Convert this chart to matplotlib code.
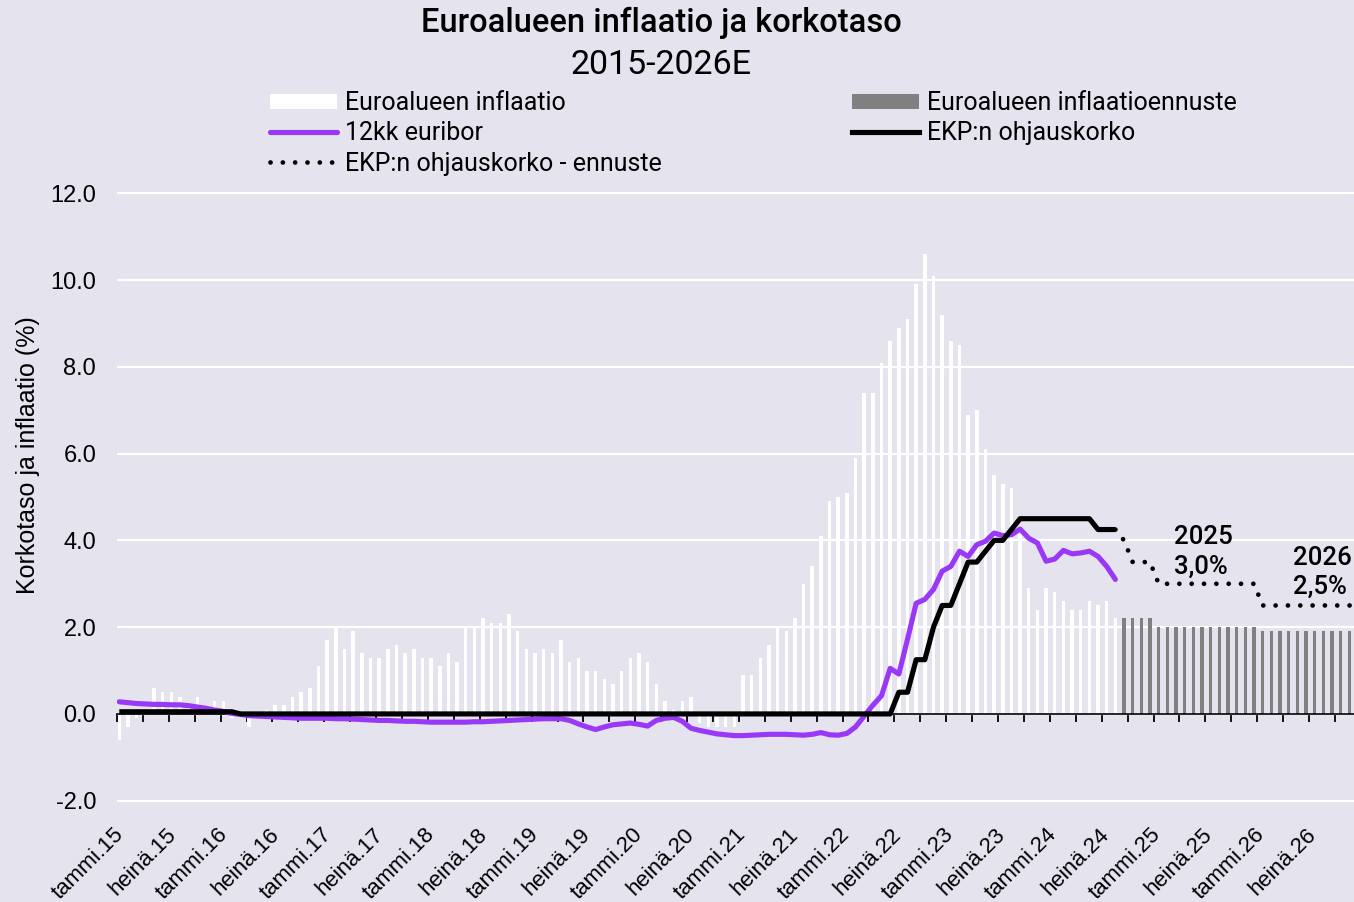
import numpy as np
import matplotlib.pyplot as plt
from matplotlib.patches import Patch
from matplotlib.lines import Line2D

bg = '#E4E3EE'
purple = '#9A38F8'
grey = '#808080'

# kuukaudet tammi.15 ... joulu.26 (144 kk), indeksi 0 = tammi.15
months = np.arange(144)

# euroalueen inflaatio (%), tammi.15 - elo.24
inflation = [
    -0.6, -0.3, -0.1, 0.0, 0.6, 0.5, 0.5, 0.4, 0.2, 0.4, 0.1, 0.3,
    0.3, -0.1, 0.0, -0.3, 0.0, 0.1, 0.2, 0.2, 0.4, 0.5, 0.6, 1.1,
    1.7, 2.0, 1.5, 1.9, 1.4, 1.3, 1.3, 1.5, 1.6, 1.4, 1.5, 1.3,
    1.3, 1.1, 1.4, 1.2, 2.0, 2.0, 2.2, 2.1, 2.1, 2.3, 1.9, 1.5,
    1.4, 1.5, 1.4, 1.7, 1.2, 1.3, 1.0, 1.0, 0.8, 0.7, 1.0, 1.3,
    1.4, 1.2, 0.7, 0.3, 0.1, 0.3, 0.4, -0.2, -0.3, -0.3, -0.3, -0.3,
    0.9, 0.9, 1.3, 1.6, 2.0, 1.9, 2.2, 3.0, 3.4, 4.1, 4.9, 5.0,
    5.1, 5.9, 7.4, 7.4, 8.1, 8.6, 8.9, 9.1, 9.9, 10.6, 10.1, 9.2,
    8.6, 8.5, 6.9, 7.0, 6.1, 5.5, 5.3, 5.2, 4.3, 2.9, 2.4, 2.9,
    2.8, 2.6, 2.4, 2.4, 2.6, 2.5, 2.6, 2.2,
]

# inflaatioennuste, syys.24 - joulu.26
inflation_fc = [
    2.2, 2.2, 2.2, 2.2,
    2.0, 2.0, 2.0, 2.0, 2.0, 2.0, 2.0, 2.0, 2.0, 2.0, 2.0, 2.0,
    1.9, 1.9, 1.9, 1.9, 1.9, 1.9, 1.9, 1.9, 1.9, 1.9, 1.9, 1.9,
]

# 12kk euribor, tammi.15 - elo.24
euribor = [
    0.28, 0.26, 0.24, 0.23, 0.22, 0.22, 0.21, 0.21, 0.19, 0.16, 0.13, 0.09,
    0.06, 0.01, -0.01, -0.04, -0.05, -0.06, -0.07, -0.08, -0.09, -0.10, -0.10, -0.10,
    -0.10, -0.11, -0.11, -0.12, -0.13, -0.14, -0.15, -0.15, -0.16, -0.17, -0.17, -0.18,
    -0.19, -0.19, -0.19, -0.19, -0.19, -0.18, -0.18, -0.17, -0.16, -0.15, -0.14, -0.13,
    -0.12, -0.11, -0.11, -0.11, -0.15, -0.23, -0.30, -0.36, -0.30, -0.25, -0.23, -0.21,
    -0.24, -0.28, -0.15, -0.10, -0.08, -0.17, -0.33, -0.38, -0.42, -0.46, -0.48, -0.50,
    -0.50, -0.49, -0.48, -0.47, -0.47, -0.47, -0.48, -0.49, -0.47, -0.43, -0.48, -0.49,
    -0.45, -0.30, -0.05, 0.20, 0.42, 1.05, 0.92, 1.72, 2.55, 2.64, 2.87, 3.29,
    3.40, 3.75, 3.63, 3.90, 3.98, 4.17, 4.11, 4.13, 4.26, 4.05, 3.94, 3.52,
    3.57, 3.77, 3.69, 3.71, 3.75, 3.63, 3.40, 3.10,
]

# EKP:n ohjauskorko, tammi.15 - elo.24
ecb = [
    0.05, 0.05, 0.05, 0.05, 0.05, 0.05, 0.05, 0.05, 0.05, 0.05, 0.05, 0.05,
    0.05, 0.05, 0, 0, 0, 0, 0, 0, 0, 0, 0, 0,
    0, 0, 0, 0, 0, 0, 0, 0, 0, 0, 0, 0,
    0, 0, 0, 0, 0, 0, 0, 0, 0, 0, 0, 0,
    0, 0, 0, 0, 0, 0, 0, 0, 0, 0, 0, 0,
    0, 0, 0, 0, 0, 0, 0, 0, 0, 0, 0, 0,
    0, 0, 0, 0, 0, 0, 0, 0, 0, 0, 0, 0,
    0, 0, 0, 0, 0, 0, 0.5, 0.5, 1.25, 1.25, 2.0, 2.5,
    2.5, 3.0, 3.5, 3.5, 3.75, 4.0, 4.0, 4.25, 4.5, 4.5, 4.5, 4.5,
    4.5, 4.5, 4.5, 4.5, 4.5, 4.25, 4.25, 4.25,
]

# EKP:n ohjauskorko - ennuste, elo.24 - joulu.26
ecb_fc = [
    4.25, 4.0, 3.5, 3.5, 3.5,
    3.0, 3.0, 3.0, 3.0, 3.0, 3.0, 3.0, 3.0, 3.0, 3.0, 3.0, 3.0,
    2.5, 2.5, 2.5, 2.5, 2.5, 2.5, 2.5, 2.5, 2.5, 2.5, 2.5, 2.5,
]

tick_labels = [
    'tammi.15', 'heinä.15', 'tammi.16', 'heinä.16', 'tammi.17', 'heinä.17',
    'tammi.18', 'heinä.18', 'tammi.19', 'heinä.19', 'tammi.20', 'heinä.20',
    'tammi.21', 'heinä.21', 'tammi.22', 'heinä.22', 'tammi.23', 'heinä.23',
    'tammi.24', 'heinä.24', 'tammi.25', 'heinä.25', 'tammi.26', 'heinä.26',
]

plt.rcParams['font.family'] = ['Liberation Sans', 'DejaVu Sans']
plt.rcParams['axes.unicode_minus'] = False
txt_font = ['Roboto', 'DejaVu Sans']

fig = plt.figure(figsize=(13.54, 9.02), dpi=100, facecolor=bg)
ax = fig.add_axes([117 / 1354, 100 / 902, 1237 / 1354, 610 / 902])
ax.set_facecolor(bg)

n_hist = len(inflation)
ax.bar(months[:n_hist], inflation, width=0.4, color='white', zorder=2)
ax.bar(months[n_hist:], inflation_fc, width=0.4, color=grey, zorder=2)
ax.plot(months[:n_hist], euribor, color=purple, lw=3.7,
        solid_capstyle='round', solid_joinstyle='round', zorder=3)
ax.plot(months[:n_hist], ecb, color='black', lw=3.7,
        solid_capstyle='butt', solid_joinstyle='round', zorder=4)
ax.plot(months[n_hist - 1:], ecb_fc, color='black', lw=3.4,
        ls=(0, (0.01, 2.6)), dash_capstyle='round', zorder=4)

ax.set_xlim(-0.23, 142.55)
ax.set_ylim(-2.03, 12.03)
ax.set_yticks(np.arange(-2, 12.1, 2))
ax.yaxis.set_major_formatter('{x:.1f}')
ax.grid(axis='y', color='white', lw=1.6)
ax.set_axisbelow(True)
for s in ['left', 'right', 'top']:
    ax.spines[s].set_visible(False)
ax.spines['bottom'].set_position(('data', 0))
ax.spines['bottom'].set_linewidth(1.2)
ax.spines['bottom'].set_zorder(2.5)

# akselin väkäset 3 kk välein
tick_m = np.arange(0, 144, 3)
ax.set_xticks((tick_m * 8.64 - 2.3) / 8.664)
ax.tick_params(axis='x', direction='out', length=6, width=1.3,
               labelbottom=False)
ax.tick_params(axis='y', length=0, pad=15, labelsize=17)

# kuukausinimet 6 kk välein alareunassa
sec = ax.secondary_xaxis('bottom')
lab_m = np.arange(0, 144, 6)
sec.set_xticks((lab_m * 8.64 - 2.3) / 8.664 + 0.92, labels=tick_labels)
sec.tick_params(length=0, pad=24, labelsize=16)
for lbl in sec.get_xticklabels():
    lbl.set_rotation(45)
    lbl.set_ha('right')
    lbl.set_va('baseline')
    lbl.set_rotation_mode('anchor')
sec.spines['bottom'].set_visible(False)

fig.text(28 / 1354, 1 - 455 / 902, 'Korkotaso ja inflaatio (%)', rotation=90,
         ha='center', va='center', fontsize=18)

fig.text(661 / 1354, 1 - 23 / 902, 'Euroalueen inflaatio ja korkotaso',
         ha='center', va='center', fontsize=23.5, family=txt_font, weight='medium')
fig.text(661 / 1354, 1 - 65 / 902, '2015-2026E',
         ha='center', va='center', fontsize=24.5, family=txt_font)

handles = [
    Patch(facecolor='white'),
    Line2D([], [], color=purple, lw=3.7, solid_capstyle='round'),
    Line2D([], [], color='black', lw=3.4, ls=(0, (0.01, 2.6)), dash_capstyle='round'),
    Patch(facecolor=grey),
    Line2D([], [], color='black', lw=3.7),
]
labels = ['Euroalueen inflaatio', '12kk euribor', 'EKP:n ohjauskorko - ennuste',
          'Euroalueen inflaatioennuste', 'EKP:n ohjauskorko']
fig.legend(handles, labels, ncol=2, loc='upper left',
           bbox_to_anchor=(270 / 1354, 1 - 91 / 902), frameon=False,
           borderpad=0, borderaxespad=0, handlelength=2.68, handleheight=0.55,
           handletextpad=0.32, columnspacing=7.6, labelspacing=0.25,
           prop={'family': txt_font, 'size': 18})

ax.text(121.8, 4.36, '2025\n3,0%', ha='left', va='top', fontsize=18.5,
        family=txt_font, weight='medium', linespacing=1.3, zorder=5)
ax.text(135.5, 3.88, '2026\n2,5%', ha='left', va='top', fontsize=18.5,
        family=txt_font, weight='medium', linespacing=1.3, zorder=5)

fig.savefig('out.png', dpi=100, facecolor=bg)
